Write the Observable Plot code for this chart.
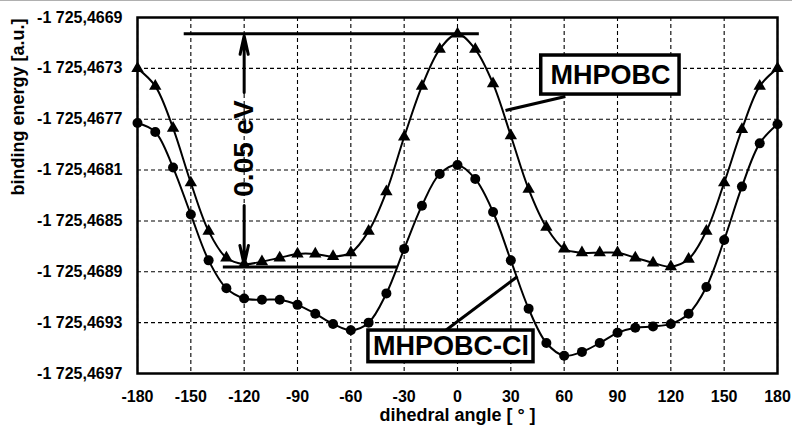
<!DOCTYPE html>
<html><head><meta charset="utf-8">
<script src="https://cdn.jsdelivr.net/npm/d3@7"></script>
<script src="https://cdn.jsdelivr.net/npm/@observablehq/plot@0.6"></script>
<style>
html,body{margin:0;padding:0;background:#fff;}
body::before{content:"";position:fixed;left:0;top:0;width:100%;height:1px;background:#b0b0b0;}
</style>
</head><body><div id="chart"></div>
<script>
// dihedral angles (degrees)
const angles = [-180,-170,-160,-150,-140,-130,-120,-110,-100,-90,-80,-70,-60,-50,-40,-30,-20,-10,0,10,20,30,40,50,60,70,80,90,100,110,120,130,140,150,160,170,180];
// binding energy [a.u.] — MHPOBC (triangles)
const mhpobc = [-1725.46730,-1725.46744,-1725.46777,-1725.46820,-1725.46858,-1725.46879,-1725.46884,-1725.46882,-1725.46879,-1725.46876,-1725.46876,-1725.46878,-1725.46875,-1725.46858,-1725.46827,-1725.46784,-1725.46744,-1725.46715,-1725.46703,-1725.46715,-1725.46742,-1725.46783,-1725.46825,-1725.46855,-1725.46872,-1725.46875,-1725.46875,-1725.46875,-1725.46879,-1725.46883,-1725.46886,-1725.46880,-1725.46858,-1725.46820,-1725.46778,-1725.46744,-1725.46730];
// binding energy [a.u.] — MHPOBC-Cl (circles)
const mhpobcCl = [-1725.46773,-1725.46780,-1725.46808,-1725.46845,-1725.46881,-1725.46903,-1725.46911,-1725.46912,-1725.46912,-1725.46916,-1725.46923,-1725.46931,-1725.46936,-1725.46930,-1725.46907,-1725.46872,-1725.46838,-1725.46813,-1725.46806,-1725.46817,-1725.46843,-1725.46881,-1725.46919,-1725.46946,-1725.46956,-1725.46953,-1725.46946,-1725.46938,-1725.46934,-1725.46933,-1725.46931,-1725.46923,-1725.46902,-1725.46865,-1725.46823,-1725.46789,-1725.46774];
const seriesNames = ["MHPOBC", "MHPOBC-Cl"];
const xTicks = [-180,-150,-120,-90,-60,-30,0,30,60,90,120,150,180];
const yTicks = [-1725.4697,-1725.4693,-1725.4689,-1725.4685,-1725.4681,-1725.4677,-1725.4673,-1725.4669];
const xTitle = "dihedral angle [ ° ]";
const yTitle = "binding energy [a.u.]";

// annotations (in data coordinates)
const refLines = [
  {x1: -154, x2: 12, y: -1725.467028},
  {x1: -132, x2: -34, y: -1725.468862}
];
const arrows = [
  {x: -120, y1: -1725.46749, y2: -1725.467045},
  {x: -120, y1: -1725.468379, y2: -1725.468845}
];
const gapLabel = [{x: -120, y: -1725.46793, text: "0.05 eV"}];
const boxes = [
  {text: "MHPOBC", x1: 47.1, x2: 124.9, y1: -1725.467199, y2: -1725.467506},
  {text: "MHPOBC-Cl", x1: -50.1, x2: 42.75, y1: -1725.469362, y2: -1725.469611}
];
const leaders = [
  {x1: 60.7, y1: -1725.467521, x2: 27, y2: -1725.467631},
  {x1: -6.75, y1: -1725.469362, x2: 33.75, y2: -1725.468937}
];

const rows = angles.flatMap((a, i) => [
  {angle: a, energy: mhpobc[i], series: seriesNames[0]},
  {angle: a, energy: mhpobcCl[i], series: seriesNames[1]}
]);

const fmt = d3.formatLocale({decimal: ",", thousands: " ", grouping: [3], currency: ["", ""], minus: "-"}).format(",.4f");
const font = "'Liberation Sans', Arial, sans-serif";

const chart = Plot.plot({
  width: 792,
  height: 429,
  marginLeft: 137,
  marginRight: 15,
  marginTop: 17,
  marginBottom: 56,
  style: {fontFamily: font, fontWeight: "bold", fontSize: "16px", background: "#fff", color: "#000", overflow: "visible"},
  x: {domain: [-180, 180]},
  y: {domain: [yTicks[0], yTicks[yTicks.length - 1]]},
  marks: [
    Plot.gridX(xTicks, {stroke: "#000", strokeOpacity: 1, strokeWidth: 1.1, strokeDasharray: "4,3"}),
    Plot.gridY(yTicks, {stroke: "#000", strokeOpacity: 1, strokeWidth: 1.1, strokeDasharray: "4,3"}),
    Plot.axisX(xTicks, {tickSize: 0, tickPadding: 17, tickFormat: d => String(d), fontSize: 16, fontWeight: "bold", label: null}),
    Plot.axisY(yTicks, {tickSize: 0, tickPadding: 15, tickFormat: fmt, fontSize: 16, fontWeight: "bold", label: null}),
    Plot.text([xTitle], {text: d => d, frameAnchor: "bottom", lineAnchor: "middle", dy: 42, fontSize: 18, fontWeight: "bold"}),
    Plot.text([yTitle], {text: d => d, frameAnchor: "left", lineAnchor: "middle", dx: -119, rotate: -90, fontSize: 18, fontWeight: "bold"}),
    Plot.line(rows, {x: "angle", y: "energy", z: "series", curve: "catmull-rom", stroke: "#000", strokeWidth: 2}),
    Plot.dot(rows.filter(d => d.series === seriesNames[0]), {x: "angle", y: "energy", symbol: "triangle", r: 4.6, fill: "#000", stroke: "none"}),
    Plot.dot(rows.filter(d => d.series === seriesNames[1]), {x: "angle", y: "energy", symbol: "circle", r: 5, fill: "#000", stroke: "none"}),
    Plot.frame({stroke: "#000", strokeWidth: 2.5}),
    Plot.link(refLines, {x1: "x1", x2: "x2", y1: "y", y2: "y", stroke: "#000", strokeWidth: 3}),
    Plot.arrow(arrows, {x1: "x", x2: "x", y1: "y1", y2: "y2", stroke: "#000", strokeWidth: 3, headLength: 12, headAngle: 25}),
    Plot.link(leaders, {x1: "x1", x2: "x2", y1: "y1", y2: "y2", stroke: "#000", strokeWidth: 3}),
    Plot.rect(boxes, {x1: "x1", x2: "x2", y1: "y1", y2: "y2", fill: "#fff", stroke: "#000", strokeWidth: 3.5}),
    Plot.text(boxes, {x: d => (d.x1 + d.x2) / 2, y: d => (d.y1 + d.y2) / 2, text: "text", fontSize: 27, fontWeight: "bold", fill: "#000"}),
    Plot.text(gapLabel, {x: "x", y: "y", text: "text", rotate: -90, fontSize: 28, fontWeight: "bold", fill: "#000"})
  ]
});
document.getElementById("chart").append(chart);
</script>
</body></html>
